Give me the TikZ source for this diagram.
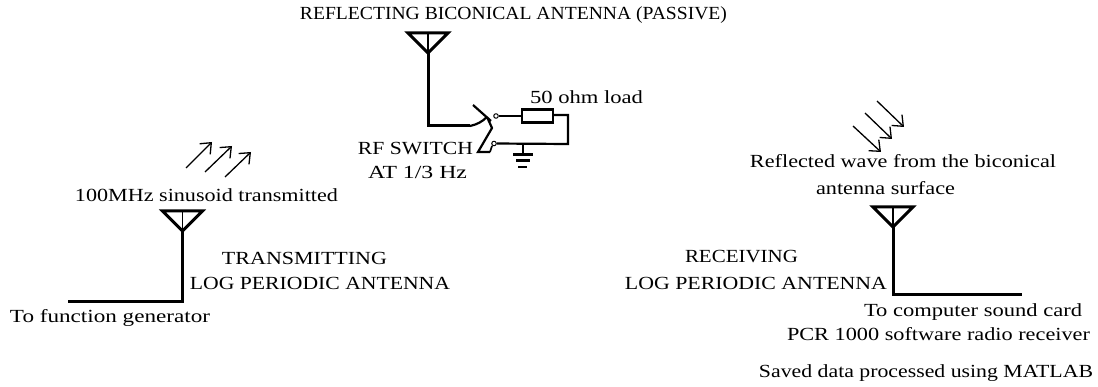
\documentclass[tikz,border=0pt]{standalone}
\usepackage{graphicx}
\usepackage{fontspec}
\setmainfont{Liberation Serif}
\usetikzlibrary{arrows.meta}
\tikzset{
  label text/.style={inner sep=0pt,anchor=center,font=\fontsize{18.5}{21}\selectfont,text=black},
  thick line/.style={draw=black,line width=3pt,line cap=butt,line join=miter},
  mid line/.style={draw=black,line width=2.2pt,line cap=butt,line join=miter},
  thin line/.style={draw=black,line width=1.6pt},
  wave/.style={draw=black,line width=1.3pt,-{Straight Barb[length=9pt,width=15pt,line width=1.3pt]}},
  contact/.style={circle,draw=black,line width=1pt,minimum size=4.5pt,inner sep=0pt,fill=white},
  load/.style={rectangle,draw=black,line width=2.2pt,minimum width=31pt,minimum height=13pt,inner sep=0pt}
}
\newcommand{\antenna}[4]{% name, x, top y, bottom y
  \coordinate (#1L) at (#2-20,#3);
  \coordinate (#1R) at (#2+20,#3);
  \coordinate (#1T) at (#2,#3);
  \coordinate (#1A) at (#2,#3+20);
  \coordinate (#1B) at (#2,#4);
  \draw[thick line] (#1L) -- (#1R) -- (#1A) -- cycle;
  \draw[thin line] (#1T) -- (#1A);
}
\newcommand{\fit}[2]{\resizebox{#1pt}{\height}{#2}}
\begin{document}
\begin{tikzpicture}[x=1pt,y=-1pt]
\useasboundingbox (0,0) rectangle (1098,387);
% top antenna
\antenna{top}{428}{33}{126}
\coordinate (swIn) at (470,126);
\coordinate (hinge) at (487,117);
\coordinate (bladeA) at (473,105);
\coordinate (bladeB) at (491,121);
\coordinate (mid) at (492,128);
\coordinate (low) at (478,152);
\coordinate (lowEnd) at (490,152);
\draw[thick line] (topA) -- (topB) -- (swIn);
\draw[mid line] (swIn) to[bend right=15] (hinge);
\draw[mid line] (bladeA) -- (bladeB);
\draw[mid line] (hinge) -- (mid) -- (low) -- (lowEnd);
\draw[thin line] (lowEnd) -- (492,146);
\node[contact] (c1) at (496,116) {};
\node[contact] (c2) at (494,143.5) {};
\node[load] (res) at (537.5,116) {};
\coordinate (loadR) at (568,115);
\coordinate (loadB) at (568,144);
\coordinate (gnd) at (523,144);
\coordinate (gndTop) at (523,154);
\draw[mid line] (c1) -- (res);
\draw[mid line] (res.east |- loadR) -- (loadR) -- (loadB) -- (c2);
\draw[mid line] (gnd) -- (gndTop);
\draw[mid line] (513,154.5) -- (533,154.5);
\draw[mid line] (516,160.5) -- (530,160.5);
\draw[mid line] (518,167) -- (527,167);
% left antenna
\antenna{tx}{182.5}{211}{302}
\coordinate (txEnd) at (68,302);
\draw[thick line] (txA) -- (txB) -- (txEnd);
\coordinate (w1s) at (186,168); \coordinate (w1e) at (212,142);
\coordinate (w2s) at (205,172); \coordinate (w2e) at (232,146);
\coordinate (w3s) at (225,177); \coordinate (w3e) at (251,152);
\draw[wave] (w1s) -- (w1e);
\draw[wave] (w2s) -- (w2e);
\draw[wave] (w3s) -- (w3e);
% right antenna
\antenna{rx}{893}{207}{295}
\coordinate (rxEnd) at (1022,295);
\draw[thick line] (rxA) -- (rxB) -- (rxEnd);
\coordinate (r1s) at (877,101); \coordinate (r1e) at (904,127);
\coordinate (r2s) at (865,113); \coordinate (r2e) at (892,139);
\coordinate (r3s) at (853,126); \coordinate (r3e) at (881,152);
\draw[wave] (r1s) -- (r1e);
\draw[wave] (r2s) -- (r2e);
\draw[wave] (r3s) -- (r3e);
% labels
\node[label text] (t1) at (513.5,15) {\fit{427}{REFLECTING BICONICAL ANTENNA (PASSIVE)}};
\node[label text] (t2) at (586.5,97) {\fit{113}{50 ohm load}};
\node[label text] (t3) at (415.5,149) {\fit{115}{RF SWITCH}};
\node[label text] (t4) at (417.5,172) {\fit{99}{AT 1/3 Hz}};
\node[label text] (t5) at (206.5,195) {\fit{263}{100MHz sinusoid transmitted}};
\node[label text] (t6) at (304.5,258) {\fit{165}{TRANSMITTING}};
\node[label text] (t7) at (320,283) {\fit{260}{LOG PERIODIC ANTENNA}};
\node[label text] (t8) at (110,318) {\fit{200}{To function generator}};
\node[label text] (t9) at (903,161) {\fit{306}{Reflected wave from the biconical}};
\node[label text] (t10) at (885.5,188) {\fit{139}{antenna surface}};
\node[label text] (t11) at (741.5,257) {\fit{113}{RECEIVING}};
\node[label text] (t12) at (756,283) {\fit{262}{LOG PERIODIC ANTENNA}};
\node[label text] (t13) at (973,312) {\fit{218}{To computer sound card}};
\node[label text] (t14) at (938.5,334) {\fit{303}{PCR 1000 software radio receiver}};
\node[label text] (t15) at (926,373) {\fit{334}{Saved data processed using MATLAB}};
\end{tikzpicture}
\end{document}
